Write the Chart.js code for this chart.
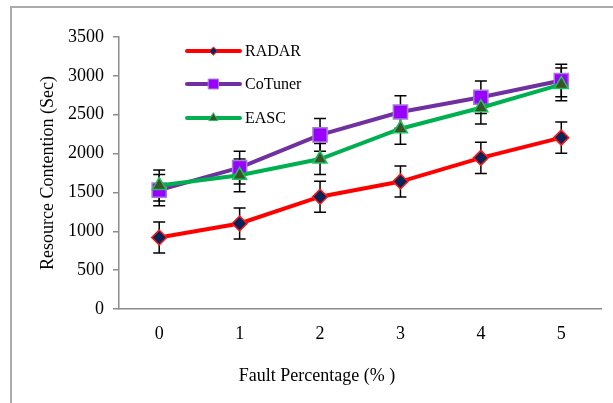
<!DOCTYPE html>
<html>
<head>
<meta charset="utf-8">
<script src="https://cdn.jsdelivr.net/npm/chart.js@4.4.0/dist/chart.umd.min.js"></script>
<style>
  html, body { margin: 0; padding: 0; background: #ffffff; }
  #wrap { width: 613px; height: 403px; position: relative; }
</style>
</head>
<body>
<div id="wrap"><canvas id="c" width="613" height="403"></canvas></div>
<script>
// Fault percentage categories
const faultPct = ['0', '1', '2', '3', '4', '5'];

// Mean resource contention (seconds) per scheme
const radar   = [920, 1100, 1445, 1640, 1945, 2205];
const coTuner = [1530, 1820, 2240, 2535, 2725, 2940];
const easc    = [1590, 1720, 1930, 2320, 2590, 2890];

// Error bar half-widths (seconds)
const radarErr   = [200, 200, 200, 200, 200, 200];
const coTunerErr = [200, 210, 210, 210, 210, 210];
const eascErr    = [200, 210, 200, 200, 210, 210];

// Y axis ticks
const yTicks = [0, 500, 1000, 1500, 2000, 2500, 3000, 3500];

const seriesNames = ['RADAR', 'CoTuner', 'EASC'];
const xTitle = 'Fault Percentage (% )';
const yTitle = 'Resource Contention (Sec)';

const FONT = '"Liberation Serif", "Times New Roman", serif';

// Vertical error bars with caps, drawn behind the lines
const errorBars = {
  id: 'errorBars',
  beforeDatasetsDraw(chart) {
    const { ctx, scales: { x, y } } = chart;
    ctx.save();
    ctx.strokeStyle = '#000000';
    ctx.lineWidth = 1.5;
    chart.data.datasets.forEach((ds) => {
      ds.data.forEach((v, i) => {
        const e = ds.errors[i];
        const px = x.getPixelForValue(i);
        const top = y.getPixelForValue(v + e);
        const bot = y.getPixelForValue(v - e);
        ctx.beginPath();
        ctx.moveTo(px, top); ctx.lineTo(px, bot);
        ctx.moveTo(px - 6, top); ctx.lineTo(px + 6, top);
        ctx.moveTo(px - 6, bot); ctx.lineTo(px + 6, bot);
        ctx.stroke();
      });
    });
    ctx.restore();
  }
};

// Legend inside the plot area, one row per series, plus the x axis caption
const innerLegend = {
  id: 'innerLegend',
  afterDraw(chart) {
    const ctx = chart.ctx;
    const rows = [51, 84, 118];
    const x0 = 187, x1 = 240;
    const legendRadius = [4, 7, 5];
    ctx.save();
    chart.data.datasets.forEach((ds, k) => {
      const yy = rows[k];
      ctx.strokeStyle = ds.borderColor;
      ctx.lineWidth = 4;
      ctx.lineCap = 'round';
      ctx.beginPath();
      ctx.moveTo(x0, yy); ctx.lineTo(x1, yy);
      ctx.stroke();
      ctx.fillStyle = ds.pointBackgroundColor;
      ctx.strokeStyle = ds.pointBorderColor;
      ctx.lineWidth = 1;
      Chart.helpers.drawPoint(ctx, { pointStyle: ds.pointStyle, radius: legendRadius[k], rotation: 0, borderWidth: 1 }, (x0 + x1) / 2, yy);
      ctx.fillStyle = '#000000';
      ctx.font = '16px ' + FONT;
      ctx.textBaseline = 'middle';
      ctx.textAlign = 'left';
      ctx.fillText(ds.label, 245, yy + 1);
    });
    // x axis caption
    ctx.font = '18px ' + FONT;
    ctx.textAlign = 'center';
    ctx.textBaseline = 'middle';
    ctx.fillStyle = '#000000';
    ctx.fillText(xTitle, 317, 376);
    ctx.restore();
  }
};

// Outer chart-area frame
const frame = {
  id: 'frame',
  beforeDraw(chart) {
    const ctx = chart.ctx;
    ctx.save();
    ctx.fillStyle = '#ffffff';
    ctx.fillRect(0, 0, chart.width, chart.height);
    ctx.strokeStyle = '#ababab';
    ctx.lineWidth = 2;
    ctx.beginPath();
    ctx.moveTo(11, chart.height);
    ctx.lineTo(11, 7);
    ctx.lineTo(chart.width, 7);
    ctx.stroke();
    ctx.restore();
  }
};

new Chart(document.getElementById('c'), {
  type: 'line',
  data: {
    labels: faultPct,
    datasets: [
      {
        label: seriesNames[0], data: radar, errors: radarErr,
        borderColor: '#ff0000', borderWidth: 4,
        pointStyle: 'rectRot', pointRadius: 7.5,
        pointBackgroundColor: '#0b2458', pointBorderColor: '#ff1a1a', pointBorderWidth: 1.5,
        tension: 0, order: 0
      },
      {
        label: seriesNames[1], data: coTuner, errors: coTunerErr,
        borderColor: '#7030a0', borderWidth: 4,
        pointStyle: 'rect', pointRadius: 10,
        pointBackgroundColor: '#9900ff', pointBorderColor: '#a37fd0', pointBorderWidth: 1.5,
        tension: 0, order: 1
      },
      {
        label: seriesNames[2], data: easc, errors: eascErr,
        borderColor: '#00b050', borderWidth: 4,
        pointStyle: 'triangle', pointRadius: 8,
        pointBackgroundColor: '#3a5326', pointBorderColor: '#1fbf5f', pointBorderWidth: 1.5,
        tension: 0, order: 0
      }
    ]
  },
  options: {
    responsive: false,
    animation: false,
    layout: { padding: { left: 0, right: 10, top: 37, bottom: 0 } },
    plugins: {
      legend: { display: false },
      tooltip: { enabled: false }
    },
    scales: {
      x: {
        type: 'category',
        offset: true,
        grid: { display: false },
        border: { display: true, color: '#8c8c8c', width: 1.5 },
        ticks: { color: '#000000', font: { family: FONT, size: 18 }, padding: 6 },
        afterFit(scale) { scale.height = 94; }
      },
      y: {
        min: 0, max: 3500,
        afterBuildTicks(scale) { scale.ticks = yTicks.map(v => ({ value: v })); },
        grid: { drawOnChartArea: false, drawTicks: true, tickLength: 6, color: '#8c8c8c', lineWidth: 1.5 },
        border: { display: true, color: '#8c8c8c', width: 1.5 },
        ticks: {
          color: '#000000', font: { family: FONT, size: 18 }, padding: 9,
          callback: (v) => String(v)
        },
        title: {
          display: true, text: yTitle, color: '#000000',
          font: { family: FONT, size: 18 }, padding: { top: 37, bottom: 0 }
        },
        afterFit(scale) { scale.width = 119; }
      }
    }
  },
  plugins: [frame, errorBars, innerLegend]
});
</script>
</body>
</html>
